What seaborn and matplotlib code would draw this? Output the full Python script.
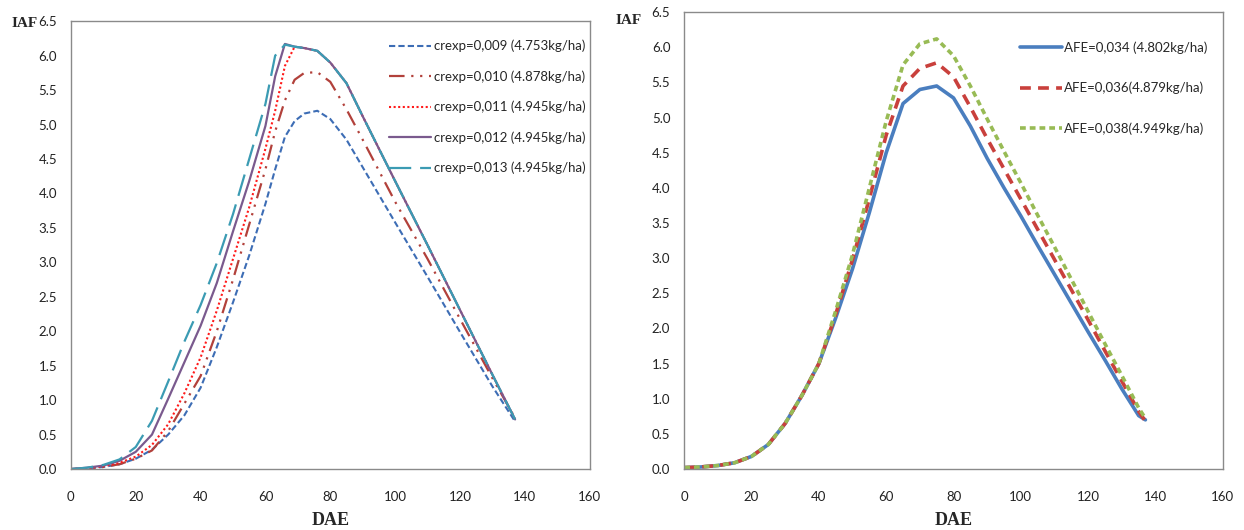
import pandas as pd
import seaborn as sns
import matplotlib
matplotlib.use("Agg")
import matplotlib.pyplot as plt

# DAE comuns de cada painel
dae_esq = [0, 5, 10, 15, 20, 25, 30, 35, 40, 45, 50, 55, 60, 63, 66, 69, 72, 76, 80, 85, 90, 100, 110, 120, 130, 137]
dae_dir = [0, 5, 10, 15, 20, 25, 30, 35, 40, 45, 50, 55, 60, 65, 70, 75, 80, 85, 90, 95, 100, 105, 110, 115, 120, 125, 130, 135, 137]

# painel esquerdo: IAF para cada crexp
iaf_009 = [0, 0.01, 0.03, 0.07, 0.15, 0.28, 0.50, 0.78, 1.18, 1.77, 2.42, 3.10, 3.85, 4.35, 4.82, 5.05, 5.16, 5.20, 5.08, 4.78, 4.38, 3.58, 2.79, 1.99, 1.20, 0.69]
iaf_010 = [0, 0.01, 0.03, 0.07, 0.15, 0.27, 0.55, 0.95, 1.35, 2.00, 2.75, 3.55, 4.35, 4.90, 5.35, 5.65, 5.75, 5.76, 5.62, 5.22, 4.78, 3.88, 3.05, 2.18, 1.32, 0.74]
iaf_011 = [0, 0.01, 0.04, 0.09, 0.18, 0.35, 0.65, 1.10, 1.62, 2.30, 3.05, 3.80, 4.65, 5.20, 5.85, 6.13, 6.11, 6.07, 5.90, 5.60, 5.12, 4.18, 3.25, 2.31, 1.37, 0.72]
iaf_012 = [0, 0.02, 0.05, 0.12, 0.25, 0.50, 1.02, 1.55, 2.08, 2.70, 3.45, 4.18, 4.98, 5.70, 6.17, 6.13, 6.11, 6.07, 5.90, 5.60, 5.12, 4.18, 3.25, 2.31, 1.37, 0.72]
iaf_013 = [0, 0.02, 0.06, 0.14, 0.32, 0.70, 1.27, 1.85, 2.38, 2.99, 3.70, 4.50, 5.30, 6.00, 6.16, 6.13, 6.11, 6.07, 5.90, 5.60, 5.12, 4.18, 3.25, 2.31, 1.37, 0.72]

# painel direito: IAF para cada AFE
iaf_034 = [0.02, 0.03, 0.05, 0.09, 0.18, 0.35, 0.65, 1.05, 1.50, 2.15, 2.85, 3.65, 4.50, 5.20, 5.40, 5.45, 5.28, 4.88, 4.42, 4.00, 3.60, 3.18, 2.77, 2.36, 1.95, 1.55, 1.14, 0.76, 0.70]
iaf_036 = [0.02, 0.03, 0.05, 0.09, 0.18, 0.35, 0.65, 1.05, 1.50, 2.20, 2.98, 3.85, 4.75, 5.45, 5.70, 5.78, 5.58, 5.15, 4.70, 4.27, 3.84, 3.41, 2.98, 2.55, 2.12, 1.68, 1.25, 0.82, 0.68]
iaf_038 = [0.02, 0.03, 0.05, 0.09, 0.18, 0.35, 0.65, 1.05, 1.50, 2.25, 3.05, 4.00, 4.95, 5.75, 6.05, 6.12, 5.88, 5.45, 4.98, 4.52, 4.07, 3.61, 3.16, 2.70, 2.24, 1.78, 1.33, 0.87, 0.72]

rotulos_esq = ['crexp=0,009 (4.753kg/ha)', 'crexp=0,010 (4.878kg/ha)', 'crexp=0,011 (4.945kg/ha)',
               'crexp=0,012 (4.945kg/ha)', 'crexp=0,013 (4.945kg/ha)']
rotulos_dir = ['AFE=0,034 (4.802kg/ha)', 'AFE=0,036(4.879kg/ha)', 'AFE=0,038(4.949kg/ha)']

sns.set_theme(style="white")
plt.rcParams['font.family'] = ['Lato', 'DejaVu Sans']

fig = plt.figure(figsize=(12.44, 5.3), dpi=100)
ax1 = fig.add_axes([0.057, 0.115, 0.417, 0.845])
ax2 = fig.add_axes([0.550, 0.115, 0.433, 0.862])

# estilos: cor, tracejado, espessura
estilos_esq = [('#3d6db5', (3, 1.5), 1.5),
               ('#b2413b', (7, 3, 1, 3, 1, 3), 1.6),
               ('#ff1a1a', (1, 1.2), 1.5),
               ('#7a5a8e', None, 1.6),
               ('#3b9bb3', (10, 4), 1.6)]
series_esq = [iaf_009, iaf_010, iaf_011, iaf_012, iaf_013]
for serie, rot, (cor, tr, lw) in zip(series_esq, rotulos_esq, estilos_esq):
    df = pd.DataFrame({'DAE': dae_esq, 'IAF': serie})
    l = sns.lineplot(data=df, x='DAE', y='IAF', ax=ax1, color=cor, lw=lw, label=rot)
    if tr is not None:
        l.lines[-1].set_dashes(tr)

estilos_dir = [('#4a7ebf', None, 2.6),
               ('#c9403c', (3, 2), 2.6),
               ('#98bb55', (1.6, 1.1), 2.6)]
series_dir = [iaf_034, iaf_036, iaf_038]
for serie, rot, (cor, tr, lw) in zip(series_dir, rotulos_dir, estilos_dir):
    df = pd.DataFrame({'DAE': dae_dir, 'IAF': serie})
    l = sns.lineplot(data=df, x='DAE', y='IAF', ax=ax2, color=cor, lw=lw, label=rot)
    if tr is not None:
        l.lines[-1].set_dashes(tr)

for ax in (ax1, ax2):
    ax.set_xlim(0, 160)
    ax.set_ylim(0, 6.5)
    ax.set_xticks(range(0, 161, 20))
    ax.set_yticks([i * 0.5 for i in range(14)])
    ax.set_yticklabels([f'{i * 0.5:.1f}' for i in range(14)])
    ax.tick_params(axis='both', labelsize=9.5, length=0, colors='#222222')
    ax.tick_params(axis='x', pad=16)
    ax.tick_params(axis='y', pad=10)
    for s in ax.spines.values():
        s.set_color('#8a8a8a')
        s.set_linewidth(1.0)
    ax.set_xlabel('DAE', fontsize=13, fontweight='bold', family='Liberation Serif', labelpad=6)
    ax.set_ylabel('')

ax1.text(-0.1137, 0.995, 'IAF', transform=ax1.transAxes, fontsize=11, fontweight='bold',
         family='Liberation Serif', ha='left', va='center')
ax2.text(-0.128, 0.982, 'IAF', transform=ax2.transAxes, fontsize=11, fontweight='bold',
         family='Liberation Serif', ha='left', va='center')

ax1.legend(loc='upper right', frameon=False, fontsize=9.5, handlelength=3.2, handletextpad=0.2,
           labelspacing=1.36, bbox_to_anchor=(1.015, 0.985))
ax2.legend(loc='upper right', frameon=False, fontsize=9.5, handlelength=3.2, handletextpad=0.2,
           labelspacing=2.12, bbox_to_anchor=(0.994, 0.962))

fig.savefig('out.png', dpi=100)
